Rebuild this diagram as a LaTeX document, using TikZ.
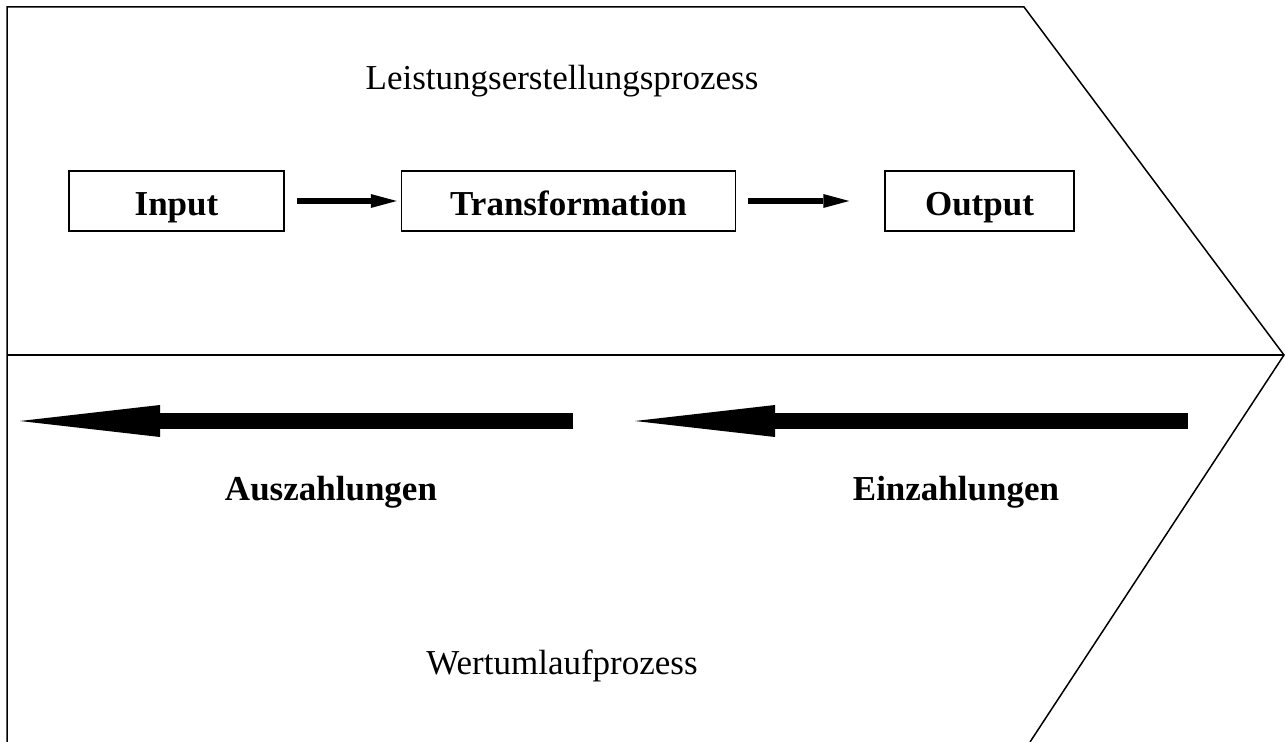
\documentclass[tikz,border=0pt]{standalone}
\usepackage{fontspec}
\setmainfont{Liberation Serif}
\usetikzlibrary{positioning,arrows.meta}

\begin{document}
\begin{tikzpicture}[x=0.5pt,y=-0.5pt,on grid,
       box/.style={draw,line width=0.75pt,minimum height=30pt,inner sep=0pt,text height=16pt,text depth=1pt,font=\fontsize{17.5}{21}\selectfont\bfseries},
       flow/.style={-{Triangle[length=13pt,width=7pt,line width=0pt]},line width=3pt,shorten <=6pt},
       cash/.style={-{Triangle[length=70pt,width=16pt,line width=0pt]},line width=8pt},
       lbl/.style={font=\fontsize{17.5}{21}\selectfont},
       cashlbl/.style={font=\fontsize{17.5}{21}\selectfont\bfseries}]
       \useasboundingbox (0,0) rectangle (1285,742);
       % outer chevron and divider
       \draw[line width=0.75pt] (7,742) -- (7,7) -- (1024,7) -- (1284,355) -- (1030,742);
       \draw[line width=0.75pt] (7,355) -- (1284,355);

       \node[lbl] (lep) at (562,81) {Leistungserstellungsprozess};
       \node[box,minimum width=107.5pt] (input) at (176.5,201) {Input};
       \node[box,minimum width=167pt] (trans) [right=196pt of input] {Transformation};
       \node[box,minimum width=94.5pt] (output) [right=205.5pt of trans] {Output};
        \path[flow]
        		(input)		edge [shorten >=2pt] (trans)
        		(trans)		edge [shorten >=17.5pt] (output);

       \coordinate (aus_s) at (573,421);
       \coordinate (aus_e) at (20,421);
       \coordinate (ein_s) at (1188,421);
       \coordinate (ein_e) at (635,421);
       \draw[cash] (aus_s) -- (aus_e);
       \draw[cash] (ein_s) -- (ein_e);
       \node[cashlbl] (aus) at (331,492) {Auszahlungen};
       \node[cashlbl] (ein) at (956,492) {Einzahlungen};

       \node[lbl] (wup) at (562,666) {Wertumlaufprozess};
    \end{tikzpicture}
\end{document}
